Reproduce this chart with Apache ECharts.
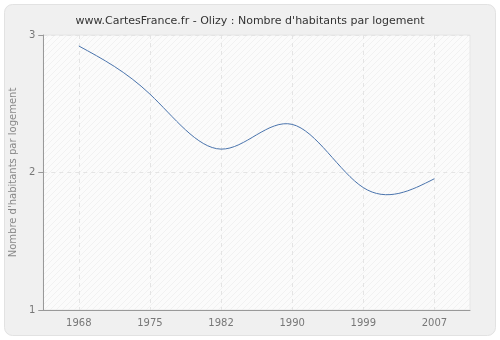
<!DOCTYPE html>
<html>
<head>
<meta charset="utf-8">
<script src="https://cdn.jsdelivr.net/npm/echarts@6/dist/echarts.min.js"></script>
<style>
  html, body { margin: 0; padding: 0; background: #fff; }
  #chart { width: 500px; height: 340px; }
</style>
</head>
<body>
<div id="chart"></div>
<script>
// données
const years = ['1968', '1975', '1982', '1990', '1999', '2007']
const habitantsParLogement = [2.92, 2.57, 2.17, 2.35, 1.89, 1.955]
const yTicks = [1, 2, 3]

// motif hachuré du fond
const makeHatch = (bg, line) => {
  const c = document.createElement('canvas')
  c.width = 6
  c.height = 6
  const ctx = c.getContext('2d')
  ctx.fillStyle = bg
  ctx.fillRect(0, 0, 6, 6)
  ctx.strokeStyle = line
  ctx.lineWidth = 1
  ctx.beginPath()
  ctx.moveTo(0, 6)
  ctx.lineTo(6, 0)
  ctx.moveTo(-1, 1)
  ctx.lineTo(1, -1)
  ctx.moveTo(5, 7)
  ctx.lineTo(7, 5)
  ctx.stroke()
  return c
}

// spline cubique naturelle : dérivées aux points (en pixels)
const splineSlopes = (pts) => {
  const n = pts.length
  const h = pts[1][0] - pts[0][0]
  const M = new Array(n).fill(0)
  // système tridiagonal M[i-1] + 4M[i] + M[i+1] = 6(y[i+1]-2y[i]+y[i-1])/h²
  const a = [], b = [], c = [], d = []
  for (let i = 1; i < n - 1; i++) {
    a.push(1); b.push(4); c.push(1)
    d.push(6 * (pts[i + 1][1] - 2 * pts[i][1] + pts[i - 1][1]) / (h * h))
  }
  const m = d.length
  for (let i = 1; i < m; i++) {
    const w = a[i] / b[i - 1]
    b[i] -= w * c[i - 1]
    d[i] -= w * d[i - 1]
  }
  const sol = new Array(m)
  sol[m - 1] = d[m - 1] / b[m - 1]
  for (let i = m - 2; i >= 0; i--) sol[i] = (d[i] - c[i] * sol[i + 1]) / b[i]
  for (let i = 0; i < m; i++) M[i + 1] = sol[i]
  const s = new Array(n)
  for (let i = 0; i < n - 1; i++) {
    const dy = (pts[i + 1][1] - pts[i][1]) / h
    s[i] = dy - h * (2 * M[i] + M[i + 1]) / 6
  }
  const dyl = (pts[n - 1][1] - pts[n - 2][1]) / h
  s[n - 1] = dyl + h * (M[n - 2] + 2 * M[n - 1]) / 6
  return { s, h }
}

const chart = echarts.init(document.getElementById('chart'))

const option = {
  backgroundColor: '#ffffff',
  animation: false,
  graphic: [
    {
      type: 'rect',
      z: -10,
      shape: { x: 4.5, y: 4.5, width: 491, height: 331, r: 8 },
      style: { fill: '#f0f0f0', stroke: '#e2e2e2', lineWidth: 1 }
    }
  ],
  title: {
    text: "www.CartesFrance.fr - Olizy : Nombre d'habitants par logement",
    left: 'center',
    top: 11,
    textStyle: { fontFamily: 'DejaVu Sans', fontSize: 11, fontWeight: 'normal', color: '#333' }
  },
  grid: {
    left: 40,
    right: 30,
    top: 35,
    bottom: 30,
    show: true,
    backgroundColor: { image: makeHatch('#fbfbfb', '#f1f1f1'), repeat: 'repeat' },
    borderColor: '#e6e6e6',
    borderWidth: 1
  },
  xAxis: {
    type: 'category',
    data: years,
    boundaryGap: true,
    axisLine: { lineStyle: { color: '#999' } },
    axisTick: { alignWithLabel: true, length: 5, lineStyle: { color: '#999' } },
    axisLabel: { fontFamily: 'DejaVu Sans', fontSize: 10, color: '#777', margin: 8 },
    splitLine: { show: true, alignWithLabel: true, lineStyle: { color: '#e4e4e4', type: [4, 4] } }
  },
  yAxis: {
    type: 'value',
    min: yTicks[0],
    max: yTicks[yTicks.length - 1],
    interval: 1,
    name: "Nombre d'habitants par logement",
    nameLocation: 'middle',
    nameGap: 24,
    nameTextStyle: { fontFamily: 'DejaVu Sans', fontSize: 10, color: '#888' },
    axisLine: { show: true, lineStyle: { color: '#999' } },
    axisTick: { show: true, length: 5, lineStyle: { color: '#999' } },
    axisLabel: { fontFamily: 'DejaVu Sans', fontSize: 10, color: '#777', margin: 8 },
    splitLine: { show: true, lineStyle: { color: '#e4e4e4', type: [4, 4] } }
  },
  series: [
    {
      type: 'custom',
      data: habitantsParLogement.map((v, i) => [i, v]),
      encode: { x: 0, y: 1 },
      renderItem: (params, api) => {
        const i = params.dataIndex
        if (i >= habitantsParLogement.length - 1) return null
        const pts = habitantsParLogement.map((v, k) => api.coord([k, v]))
        const { s, h } = splineSlopes(pts)
        const p0 = pts[i]
        const p1 = pts[i + 1]
        return {
          type: 'bezierCurve',
          shape: {
            x1: p0[0], y1: p0[1],
            cpx1: p0[0] + h / 3, cpy1: p0[1] + s[i] * h / 3,
            cpx2: p1[0] - h / 3, cpy2: p1[1] - s[i + 1] * h / 3,
            x2: p1[0], y2: p1[1]
          },
          style: { stroke: '#4a74ad', lineWidth: 1, fill: null }
        }
      }
    }
  ]
}

chart.setOption(option)
</script>
</body>
</html>
